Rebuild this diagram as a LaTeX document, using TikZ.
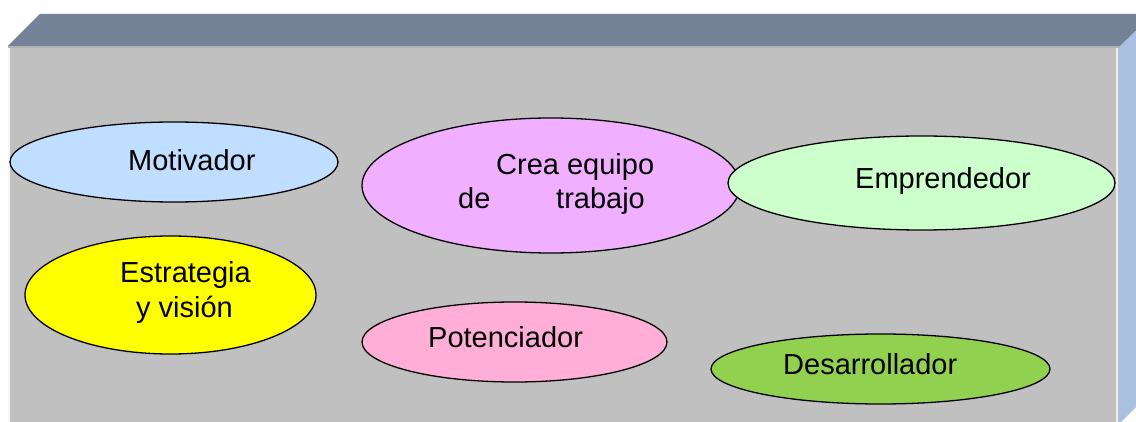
\documentclass[tikz,border=0pt]{standalone}
\usepackage{fontspec}
\setmainfont{Liberation Sans}
\usetikzlibrary{shapes.geometric}
\definecolor{topface}{HTML}{748297}
\definecolor{frontface}{HTML}{C0C0C0}
\definecolor{sideface}{HTML}{A9C0E0}
\definecolor{cblue}{HTML}{C0DEFF}
\definecolor{cviolet}{HTML}{F0B0FF}
\definecolor{clgreen}{HTML}{CCFFCC}
\definecolor{cyellow}{HTML}{FFFF00}
\definecolor{cpink}{HTML}{FFAFD7}
\definecolor{cgreen}{HTML}{92D050}
\tikzset{
  bubble/.style={ellipse, draw=black, line width=1.3pt, inner sep=0pt},
  lbl/.style={anchor=base west, inner sep=0pt, font=\fontsize{29}{34}\selectfont}
}
\begin{document}
\begin{tikzpicture}[x=1pt,y=-1pt]
\useasboundingbox (0,0) rectangle (1136,422);
\begin{scope}
\clip (0,0) rectangle (1136,422);
% 3D box
\fill[topface] (8,46) -- (40,14) -- (1160,14) -- (1119,47) -- cycle;
\fill[sideface] (1119,47) -- (1152,15) -- (1152,391) -- (1119,424) -- cycle;
\fill[frontface] (8,46) rectangle (1119,440);
\draw[white!85!frontface, line width=2pt] (9,47) -- (9,440);
\draw[white!70!frontface, line width=2pt] (1117,47) -- (1117,440);
\draw[black!8!frontface, line width=1.5pt] (8,47) -- (1119,47);
\end{scope}
% ellipses
\node[bubble, fill=cblue, minimum width=328pt, minimum height=80pt] (mot) at (174,162) {};
\node[bubble, fill=cviolet, minimum width=378pt, minimum height=135pt] (cre) at (551,185.5) {};
\node[bubble, fill=clgreen, minimum width=387pt, minimum height=94pt] (emp) at (921.5,183) {};
\node[bubble, fill=cyellow, minimum width=291pt, minimum height=118pt] (est) at (170.5,295) {};
\node[bubble, fill=cpink, minimum width=305pt, minimum height=80pt] (pot) at (514.5,342) {};
\node[bubble, fill=cgreen, minimum width=339pt, minimum height=70pt] (des) at (880.5,369) {};
% labels
\node[lbl] (tmot) at (128,171) {Motivador};
\node[lbl] (tcre1) at (496,175) {Crea equipo};
\node[lbl] (tcre2) at (458,209) {de};
\node[lbl] (tcre3) at (556,209) {trabajo};
\node[lbl] (temp) at (855,189) {Emprendedor};
\node[lbl] (test1) at (120,283) {Estrategia};
\node[lbl] (test2) at (136,318) {y visión};
\node[lbl] (tpot) at (428,347) {Potenciador};
\node[lbl] (tdes) at (783,374) {Desarrollador};
\end{tikzpicture}
\end{document}
